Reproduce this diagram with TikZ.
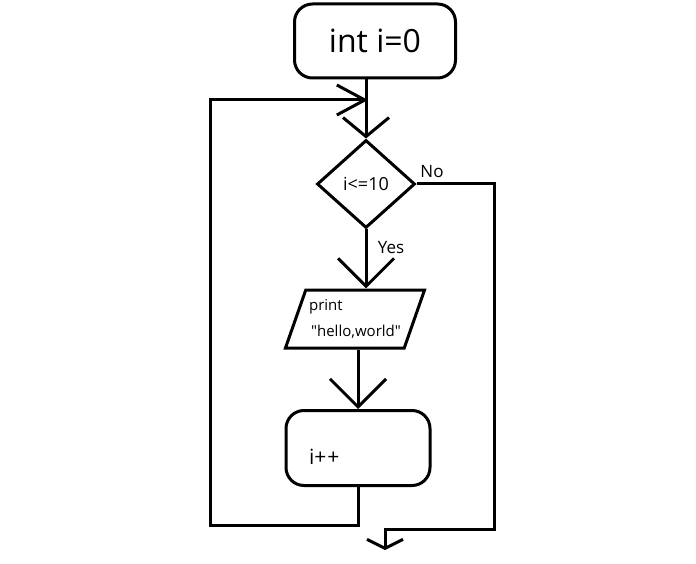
\documentclass[tikz,border=0pt]{standalone}
\usepackage{fontspec}
\setmainfont{Open Sans}
\usepackage{tikz}
\usetikzlibrary{shapes.geometric}
\usetikzlibrary{arrows.meta}
\usetikzlibrary{calc}

\begin{document}
\begin{tikzpicture}[x=1pt, y=-1pt, line width=3pt]
		\useasboundingbox (0, 0) rectangle (696, 564);
		
		\begin{scope}[every node/.style={draw, rounded corners=18pt, inner sep=0pt}]
		\node (start) [minimum width=161pt, minimum height=74pt, font=\fontsize{32}{36}\selectfont] at (375, 41) {int i=0};
		\node (inc) [minimum width=144pt, minimum height=75pt, label={[anchor=west, xshift=23pt, yshift=-9pt, font=\fontsize{21}{24}\selectfont]west:i+\hspace{1pt}+}] at (358, 448) {};
		\end{scope}
		
		\node (cond) [diamond, draw, inner sep=0pt, minimum width=98pt, minimum height=88pt, font=\fontsize{18}{20}\selectfont] at (366, 184) {i<=10};
		\node (out) [trapezium, draw, trapezium left angle=66, trapezium right angle=114, trapezium stretches=true, minimum width=130pt, minimum height=58pt, align=left, font=\fontsize{15}{26}\selectfont] at (355, 319) {print\\\hspace*{2pt}\textquotedbl hello,world\textquotedbl};
		
		\coordinate (join) at (368, 100);
		\coordinate (lb) at (210, 525);
		\coordinate (rb) at (494, 529);
		\coordinate (exit) at (385, 550);
		
		\begin{scope}[>={Straight Barb[length=28pt, width=56pt]}, font=\fontsize{17}{20}\selectfont]
		\draw [->, >={Straight Barb[length=19pt, width=46pt]}] (start.south -| cond.north) -- (cond.north);
		\draw [->] (cond.south) -- node (yes) [right=7pt, pos=0.3] {Yes} (out.north -| cond.south);
		\draw [->] (out.south -| inc.north) -- (inc.north);
		\draw [->, >={Straight Barb[length=28pt, width=30pt]}] (inc.south) |- (lb) |- (join);
		\draw [->, >={Straight Barb[length=9pt, width=36pt]}] (cond.east) -- node (no) [pos=0.2, above=1pt] {No} (cond.east -| rb) -- (rb) -| (exit);
		\end{scope}
		
		\end{tikzpicture}
\end{document}
